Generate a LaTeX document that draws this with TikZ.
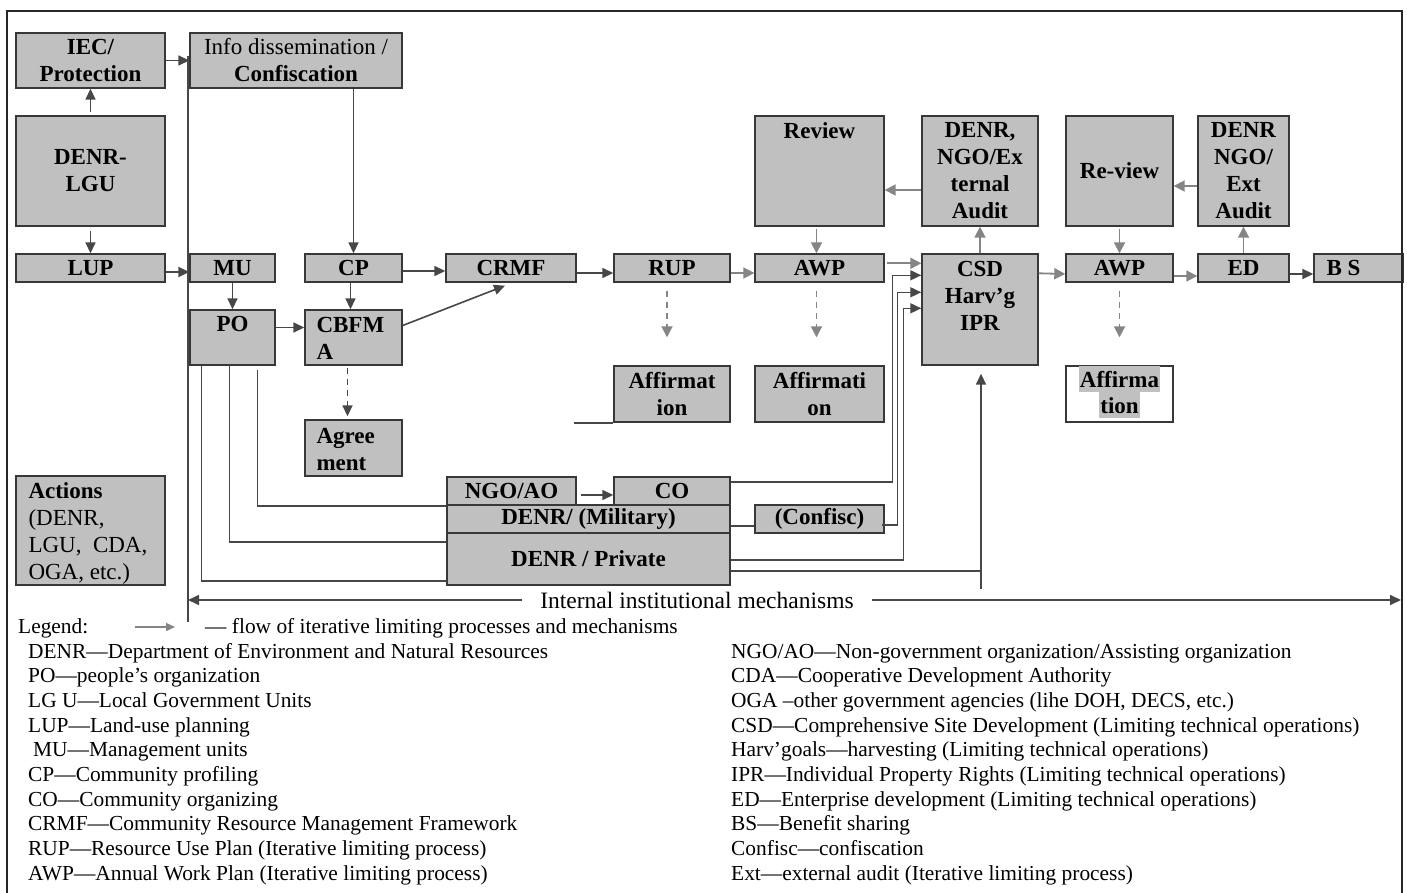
\documentclass[tikz,border=0pt]{standalone}
\usepackage{fontspec}
\setmainfont{Liberation Serif}
\usetikzlibrary{arrows.meta,calc}
\definecolor{boxgray}{HTML}{C0C0C0}
\definecolor{edgegray}{HTML}{383838}
\definecolor{darkline}{HTML}{474747}
\definecolor{lightline}{HTML}{858585}
\newcommand{\boxfont}{\fontsize{23}{27}\selectfont\bfseries}
\newcommand{\lgdfont}{\fontsize{21.4}{24.7}\selectfont}
\newcommand{\iimfont}{\fontsize{23.5}{27}\selectfont}
\tikzset{
  box/.style={draw=edgegray, fill=boxgray, line width=1.4pt, inner sep=0pt, font=\boxfont, align=center},
  boxtext/.style={inner sep=0pt, font=\boxfont, align=center},
  dline/.style={draw=darkline, line width=1.6pt},
  darr/.style={dline, -{Triangle[length=11pt,width=10pt]}},
  larr/.style={draw=lightline, line width=1.8pt, -{Triangle[length=11pt,width=11pt]}},
  ldarr/.style={larr, dash pattern=on 6pt off 5pt},
  ddarr/.style={darr, dash pattern=on 6pt off 5pt},
  frameline/.style={draw=black!85, line width=2.8pt},
  lgd/.style={font=\lgdfont, anchor=base west, inner sep=0pt},
  hl/.style={fill=boxgray, font=\boxfont, inner xsep=1pt, inner ysep=0pt, minimum height=26pt},
}
\newcommand{\mkbox}[6]{%
  \node[box, minimum width={#4-#2}, minimum height={#5-#3}] (#1) at ({(#2+#4)/2},{(#3+#5)/2}) {#6};}
\newcommand{\lgline}[4]{\node[lgd] (#1) at (#2,{658+24.7*#3}) {#4};}
\begin{document}
\begin{tikzpicture}[x=1pt,y=-1pt]
\useasboundingbox (0,0) rectangle (1407,893);
\fill[white] (0,0) rectangle (1407,893);
% boxes
\mkbox{iec}{16}{33}{165}{88}{IEC/\\Protection}
\mkbox{info}{190}{33}{402}{88}{{\mdseries Info dissemination /}\\Confiscation}
\mkbox{denrlgu}{16}{116}{165}{226}{DENR-\\LGU}
\mkbox{lup}{16}{254}{165}{282}{LUP}
\mkbox{mu}{190}{254}{275}{282}{MU}
\mkbox{cp}{305}{254}{402}{282}{CP}
\mkbox{crmf}{446}{254}{576}{282}{CRMF}
\mkbox{rup}{614}{254}{730}{282}{RUP}
\mkbox{awpa}{755}{254}{884}{282}{AWP}
\mkbox{review}{755}{116}{884}{226}{}
\node[boxtext, anchor=base] (reviewt) at ($(review.north)+(0,23)$) {Review};
\mkbox{extaudit}{922}{116}{1038}{226}{DENR,\\NGO/Ex\\ternal\\Audit}
\mkbox{csd}{922}{254}{1038}{365}{}
\node[boxtext] (csdt) at ($(csd.north)+(0,43)$) {CSD\\Harv’g\\IPR};
\mkbox{reviewb}{1066}{116}{1173}{226}{Re-view}
\mkbox{extb}{1198}{116}{1289}{226}{DENR\\NGO/\\Ext\\Audit}
\mkbox{awpb}{1066}{254}{1173}{282}{AWP}
\mkbox{ed}{1198}{254}{1289}{282}{ED}
\mkbox{bs}{1314}{254}{1403}{282}{}
\node[boxtext, anchor=west] (bst) at ($(bs.west)+(13,0)$) {B S};
\mkbox{po}{190}{310}{275}{365}{}
\node[boxtext] (pot) at ($(po.north)+(0,15)$) {PO};
\mkbox{cbfma}{305}{310}{402}{365}{}
\node[boxtext, anchor=west, align=left] (cbfmat) at ($(cbfma.west)+(12,1)$) {CBFM\\A};
\mkbox{agree}{305}{420}{402}{476}{}
\node[boxtext, anchor=west, align=left] (agreet) at ($(agree.west)+(12,2)$) {Agree\\ment};
\mkbox{affa}{614}{366}{730}{422}{Affirmat\\ion}
\mkbox{affb}{755}{366}{884}{422}{Affirmati\\on}
\node[draw=edgegray, fill=white, line width=1.4pt, inner sep=0pt, minimum width=107pt, minimum height=56pt] (affc) at (1119.5,394) {};
\node[hl] (affc1) at ($(affc.north)+(0,14)$) {Affirma};
\node[hl] (affc2) at ($(affc.north)+(0,40)$) {tion};
\mkbox{actions}{16}{476}{165}{585}{}
\node[boxtext, anchor=west, align=left] (actt) at ($(actions.west)+(13,3)$) {Actions\\\mdseries(DENR,\\\mdseries LGU,\ \ CDA,\\\mdseries OGA, etc.)};
\mkbox{ngo}{447}{477}{576}{505}{NGO/AO}
\mkbox{co}{614}{477}{730}{505}{CO}
\mkbox{mil}{447}{505}{730}{533}{DENR/ (Military)}
\mkbox{priv}{447}{533}{730}{585}{DENR / Private}
\mkbox{confisc}{755}{505}{884}{533}{(Confisc)}
% vertical bus
\coordinate (vtop) at (188,56);
\coordinate (vbot) at (188,622);
\draw[dline] (vtop) -- (vbot);
% dark arrows
\draw[darr] (iec) -- (info);
\draw[darr, shorten <=3pt] (denrlgu) -- (iec);
\draw[darr, shorten <=4pt] (denrlgu) -- (lup);
\draw[darr] ($(lup.east)+(0,4)$) -- ($(mu.west)+(0,4)$);
\draw[darr] (info.south -| cp.north) -- (cp.north);
\draw[darr] ($(cp.east)+(0,3)$) -- ($(crmf.west)+(0,3)$);
\draw[darr] (mu) -- (po);
\draw[darr] ($(cp.south)+(-3,0)$) -- ($(cbfma.north)+(-3,0)$);
\draw[darr] ($(po.east)+(0,-10)$) -- ($(cbfma.west)+(0,-10)$);
\draw[darr] ($(cbfma.east)+(0,-12)$) -- ($(crmf.south)+(-6,3)$);
\draw[ddarr] ($(cbfma.south)+(-6,2)$) -- ($(agree.north)+(-6,-3)$);
\draw[darr] ($(crmf.east)+(0,5)$) -- ($(rup.west)+(0,5)$);
\draw[darr, shorten <=4pt] ($(ngo.east)+(0,4)$) -- ($(co.west)+(0,4)$);
\draw[darr] ($(ed.east)+(0,6)$) -- ($(bs.west)+(0,6)$);
% light arrows
\draw[larr] ($(rup.east)+(0,5)$) -- ($(awpa.west)+(0,5)$);
\draw[larr, shorten <=2pt] ($(review.south)+(-3,0)$) -- ($(awpa.north)+(-3,0)$);
\draw[ldarr] ($(rup.south)+(-5,8)$) -- ($(affa.north)+(-5,-28)$);
\draw[ldarr] ($(awpa.south)+(-3,8)$) -- ($(affb.north)+(-3,-28)$);
\draw[ldarr] ($(awpb.south)+(0,8)$) -- ($(affc.north)+(0,-28)$);
\coordinate (in1) at ($(csd.north west)+(0,10)$);
\coordinate (in2) at ($(csd.north west)+(0,22)$);
\coordinate (in3) at ($(csd.north west)+(0,39)$);
\coordinate (in4) at ($(csd.north west)+(0,55)$);
\draw[larr, shorten <=2pt] (awpa.east |- in1) -- (in1);
\draw[larr] (csd) -- (extaudit);
\draw[larr] ($(extaudit.west)+(0,19)$) -- ($(review.east)+(0,19)$);
\draw[larr] ($(csd.north east)+(0,20)$) -- ($(awpb.west)+(0,6)$);
\draw[larr, shorten <=2pt] (reviewb) -- (awpb);
\draw[larr] ($(extb.west)+(0,15)$) -- ($(reviewb.east)+(0,15)$);
\draw[larr] (ed) -- (extb);
\draw[larr] ($(awpb.east)+(0,8)$) -- ($(ed.west)+(0,8)$);
% feeds into CSD
\draw[darr] ($(co.east)+(0,-9)$) -| ($(in2)+(-29,0)$) -- (in2);
\draw[dline] ($(mil.east)+(0,7)$) -- ($(confisc.west)+(0,7)$);
\draw[darr] ($(confisc.east)+(-3,6)$) -| ($(in3)+(-24,0)$) -- (in3);
\draw[darr] ($(priv.east)+(0,1)$) -| ($(in4)+(-18,0)$) -- (in4);
\draw[darr] ($(priv.east)+(0,12)$) -| ($(csd.south)+(1,8)$);
\draw[dline] ($(csd.south)+(1,206)$) -- ($(csd.south)+(1,223)$);
% PO lines
\draw[dline] ($(po.south west)+(12,0)$) |- ($(priv.west)+(0,22)$);
\draw[dline] ($(po.south west)+(40,0)$) |- ($(priv.west)+(0,-17)$);
\draw[dline] ($(po.south west)+(68,4)$) |- (ngo.south west);
\draw[dline] ($(affa.south west)+(-39,0)$) -- (affa.south west);
% internal institutional mechanisms
\node[font=\iimfont, inner xsep=18pt, inner ysep=0pt] (iim) at (697,600) {Internal institutional mechanisms};
\coordinate (rtip) at (1401,600);
\draw[darr] (iim.west) -- (vtop |- iim.west);
\draw[darr] (iim.east) -- (rtip);
% legend
\node[lgd] (lg0) at (18,633) {Legend:};
\coordinate (la1) at (135,627);
\coordinate (la2) at (175,627);
\draw[draw=lightline, line width=1.5pt, -{Triangle[length=9pt,width=8pt]}] (la1) -- (la2);
\node[lgd] (lg0b) at (205,633) {— flow of iterative limiting processes and mechanisms};
\lgline{l0}{28}{0}{DENR—Department of Environment and Natural Resources}
\lgline{l1}{28}{1}{PO—people’s organization}
\lgline{l2}{28}{2}{LG U—Local Government Units}
\lgline{l3}{28}{3}{LUP—Land-use planning}
\lgline{l4}{33}{4}{MU—Management units}
\lgline{l5}{28}{5}{CP—Community profiling}
\lgline{l6}{28}{6}{CO—Community organizing}
\lgline{l7}{28}{7}{CRMF—Community Resource Management Framework}
\lgline{l8}{28}{8}{RUP—Resource Use Plan (Iterative limiting process)}
\lgline{l9}{28}{9}{AWP—Annual Work Plan (Iterative limiting process)}
\lgline{r0}{731}{0}{NGO/AO—Non-government organization/Assisting organization}
\lgline{r1}{731}{1}{CDA—Cooperative Development Authority}
\lgline{r2}{731}{2}{OGA –other government agencies (lihe DOH, DECS, etc.)}
\lgline{r3}{731}{3}{CSD—Comprehensive Site Development (Limiting technical operations)}
\lgline{r4}{731}{4}{Harv’goals—harvesting (Limiting technical operations)}
\lgline{r5}{731}{5}{IPR—Individual Property Rights (Limiting technical operations)}
\lgline{r6}{731}{6}{ED—Enterprise development (Limiting technical operations)}
\lgline{r7}{731}{7}{BS—Benefit sharing}
\lgline{r8}{731}{8}{Confisc—confiscation}
\lgline{r9}{731}{9}{Ext—external audit (Iterative limiting process)}
% frame
\draw[frameline] (7,893) -- (7,11) -- (1402,11) -- (1402,893);
\end{tikzpicture}
\end{document}
